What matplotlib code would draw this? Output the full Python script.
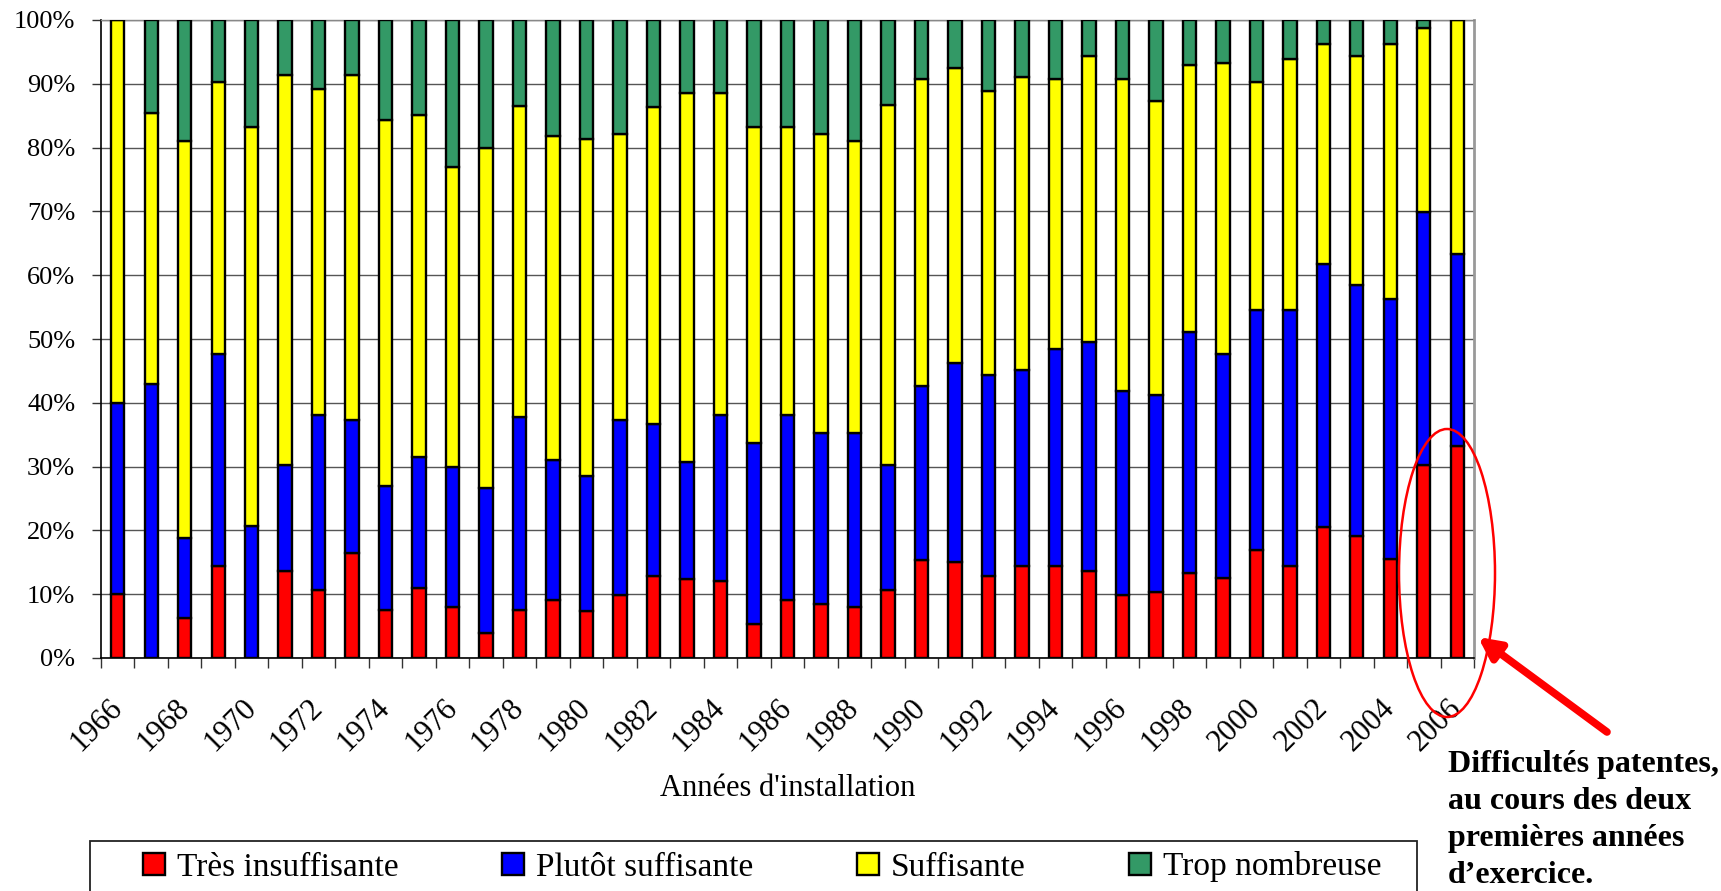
import matplotlib
matplotlib.use("Agg")
import matplotlib.pyplot as plt
import numpy as np
from matplotlib.patches import Rectangle, Ellipse, FancyArrowPatch

# ---- data (shares in %) ----
years = list(range(1966, 2007))
tres_insuffisante = [10.0, 0.0, 6.2, 14.4, 0.0, 13.6, 10.6, 16.5, 7.6, 11.0,
                     8.0, 3.9, 7.6, 9.1, 7.3, 9.9, 12.8, 12.4, 12.1, 5.4,
                     9.1, 8.4, 8.0, 10.6, 15.4, 15.0, 12.8, 14.4, 14.4, 13.6,
                     9.9, 10.3, 13.3, 12.5, 16.9, 14.4, 20.6, 19.1, 15.5, 30.3,
                     33.3]
plutot_suffisante = [30.0, 43.0, 12.6, 33.3, 20.7, 16.7, 27.5, 20.8, 19.3, 20.5,
                     21.9, 22.8, 30.2, 21.9, 21.2, 27.4, 23.9, 18.3, 26.0, 28.3,
                     29.0, 26.8, 27.2, 19.7, 27.2, 31.3, 31.6, 30.8, 34.1, 36.0,
                     31.9, 30.9, 37.8, 35.2, 37.6, 40.1, 41.2, 39.4, 40.8, 39.6,
                     30.0]
suffisante = [60.0, 42.4, 62.2, 42.6, 62.6, 61.1, 51.1, 54.1, 57.5, 53.6,
              47.0, 53.2, 48.7, 50.8, 52.9, 44.8, 49.6, 57.8, 50.4, 49.6,
              45.2, 46.9, 45.8, 56.3, 48.1, 46.2, 44.4, 45.8, 42.2, 44.8,
              48.9, 46.1, 41.8, 45.6, 35.8, 39.4, 34.5, 35.9, 40.0, 28.9,
              36.7]
trop_nombreuse = [0.0, 14.6, 19.0, 9.7, 16.7, 8.6, 10.8, 8.6, 15.6, 14.9,
                  23.1, 20.1, 13.5, 18.2, 18.6, 17.9, 13.7, 11.5, 11.5, 16.7,
                  16.7, 17.9, 19.0, 13.4, 9.3, 7.5, 11.2, 9.0, 9.3, 5.6,
                  9.3, 12.7, 7.1, 6.7, 9.7, 6.1, 3.7, 5.6, 3.7, 1.2,
                  0.0]
series_names = ["Très insuffisante", "Plutôt suffisante", "Suffisante", "Trop nombreuse"]
series_colors = ["#FF0000", "#0000FF", "#FFFF00", "#339966"]
y_ticks = [0, 10, 20, 30, 40, 50, 60, 70, 80, 90, 100]
y_tick_labels = ["0%", "10%", "20%", "30%", "40%", "50%", "60%", "70%", "80%", "90%", "100%"]
x_label = "Années d'installation"
note_lines = ["Difficultés patentes,", "au cours des deux", "premières années", "d\u2019exercice."]

SERIF = ["Liberation Serif", "DejaVu Serif"]
plt.rcParams["font.family"] = SERIF

W, H = 1721, 891
fig = plt.figure(figsize=(W / 100, H / 100), dpi=100)
fig.patch.set_facecolor("white")

def fx(px):
    return px / W

def fy(py):
    return 1 - py / H

ax_left, ax_right, ax_top, ax_bot = 101, 1474, 20, 658
ax = fig.add_axes([fx(ax_left), fy(ax_bot), fx(ax_right - ax_left), (ax_bot - ax_top) / H])

x = np.arange(len(years))
data = [tres_insuffisante, plutot_suffisante, suffisante, trop_nombreuse]
bottom = np.zeros(len(years))
handles = []
for vals, name, col in zip(data, series_names, series_colors):
    v = np.array(vals, dtype=float)
    b = ax.bar(x, v, width=0.4, bottom=bottom, color=col, edgecolor="black",
               linewidth=1.7, label=name, zorder=3)
    handles.append(b)
    bottom += v

ax.set_xlim(-0.5, len(years) - 0.5)
ax.set_ylim(0, 100)

# grid
ax.set_yticks(y_ticks)
ax.set_yticklabels(y_tick_labels, fontsize=19)
ax.yaxis.grid(True, color="#555555", linewidth=1.0, zorder=0)
ax.set_axisbelow(True)
ax.tick_params(axis="y", direction="out", length=6.5, width=1, pad=12, color="#333333")

# x ticks: marks between categories, labels on every other category
ax.set_xticks(np.arange(-0.5, len(years), 1.0))
ax.set_xticklabels([])
ax.tick_params(axis="x", which="major", direction="out", length=7.2, width=1, color="#333333")
lab_pos = x[::2]
ax.set_xticks(lab_pos, minor=True)
ax.set_xticklabels([str(years[i]) for i in lab_pos], minor=True, fontsize=22,
                   rotation=45, ha="right", va="center", rotation_mode="anchor")
ax.tick_params(axis="x", which="minor", length=0, pad=33)

for s in ["left", "bottom"]:
    ax.spines[s].set_color("black")
    ax.spines[s].set_linewidth(1.2)
ax.spines["right"].set_color("#999999")
ax.spines["right"].set_linewidth(2)
ax.spines["top"].set_color("#888888")
ax.spines["top"].set_linewidth(1)

ax.set_xlabel(x_label, fontsize=22)
ax.xaxis.set_label_coords(0.5, -(789 - ax_bot) / (ax_bot - ax_top))
ax.xaxis.label.set_va("center")

# legend (frame drawn separately, running off the bottom)
fig.patches.append(Rectangle((fx(90), fy(H + 20)), fx(1417 - 90), (H + 20 - 841) / H,
                             transform=fig.transFigure, fill=False, edgecolor="#222222",
                             linewidth=1.3, zorder=1))
fig.legend(handles, series_names, ncol=4, frameon=False, fontsize=24,
           loc="center left", bbox_to_anchor=(fx(143), fy(867)),
           borderpad=0, borderaxespad=0, handlelength=0.66, handleheight=0.66,
           handletextpad=0.36, columnspacing=3.1)

# annotation: ellipse, arrow, text
fig.patches.append(Ellipse((fx(1447), fy(573)), fx(96), 288 / H, transform=fig.transFigure,
                           fill=False, edgecolor="red", linewidth=1.8, zorder=5))
fig.patches.append(FancyArrowPatch((fx(1607), fy(732)), (fx(1478), fy(637)),
                                   transform=fig.transFigure, arrowstyle="-|>",
                                   mutation_scale=32, linewidth=5.5, color="red",
                                   shrinkA=0, shrinkB=0, zorder=6))
baselines = [772, 809, 846, 883]
for line, yb in zip(note_lines, baselines):
    fig.text(fx(1448), fy(yb), line, fontsize=23, fontweight="bold", ha="left",
             va="baseline", family=SERIF)

fig.savefig("out.png", dpi=100, facecolor="white")
